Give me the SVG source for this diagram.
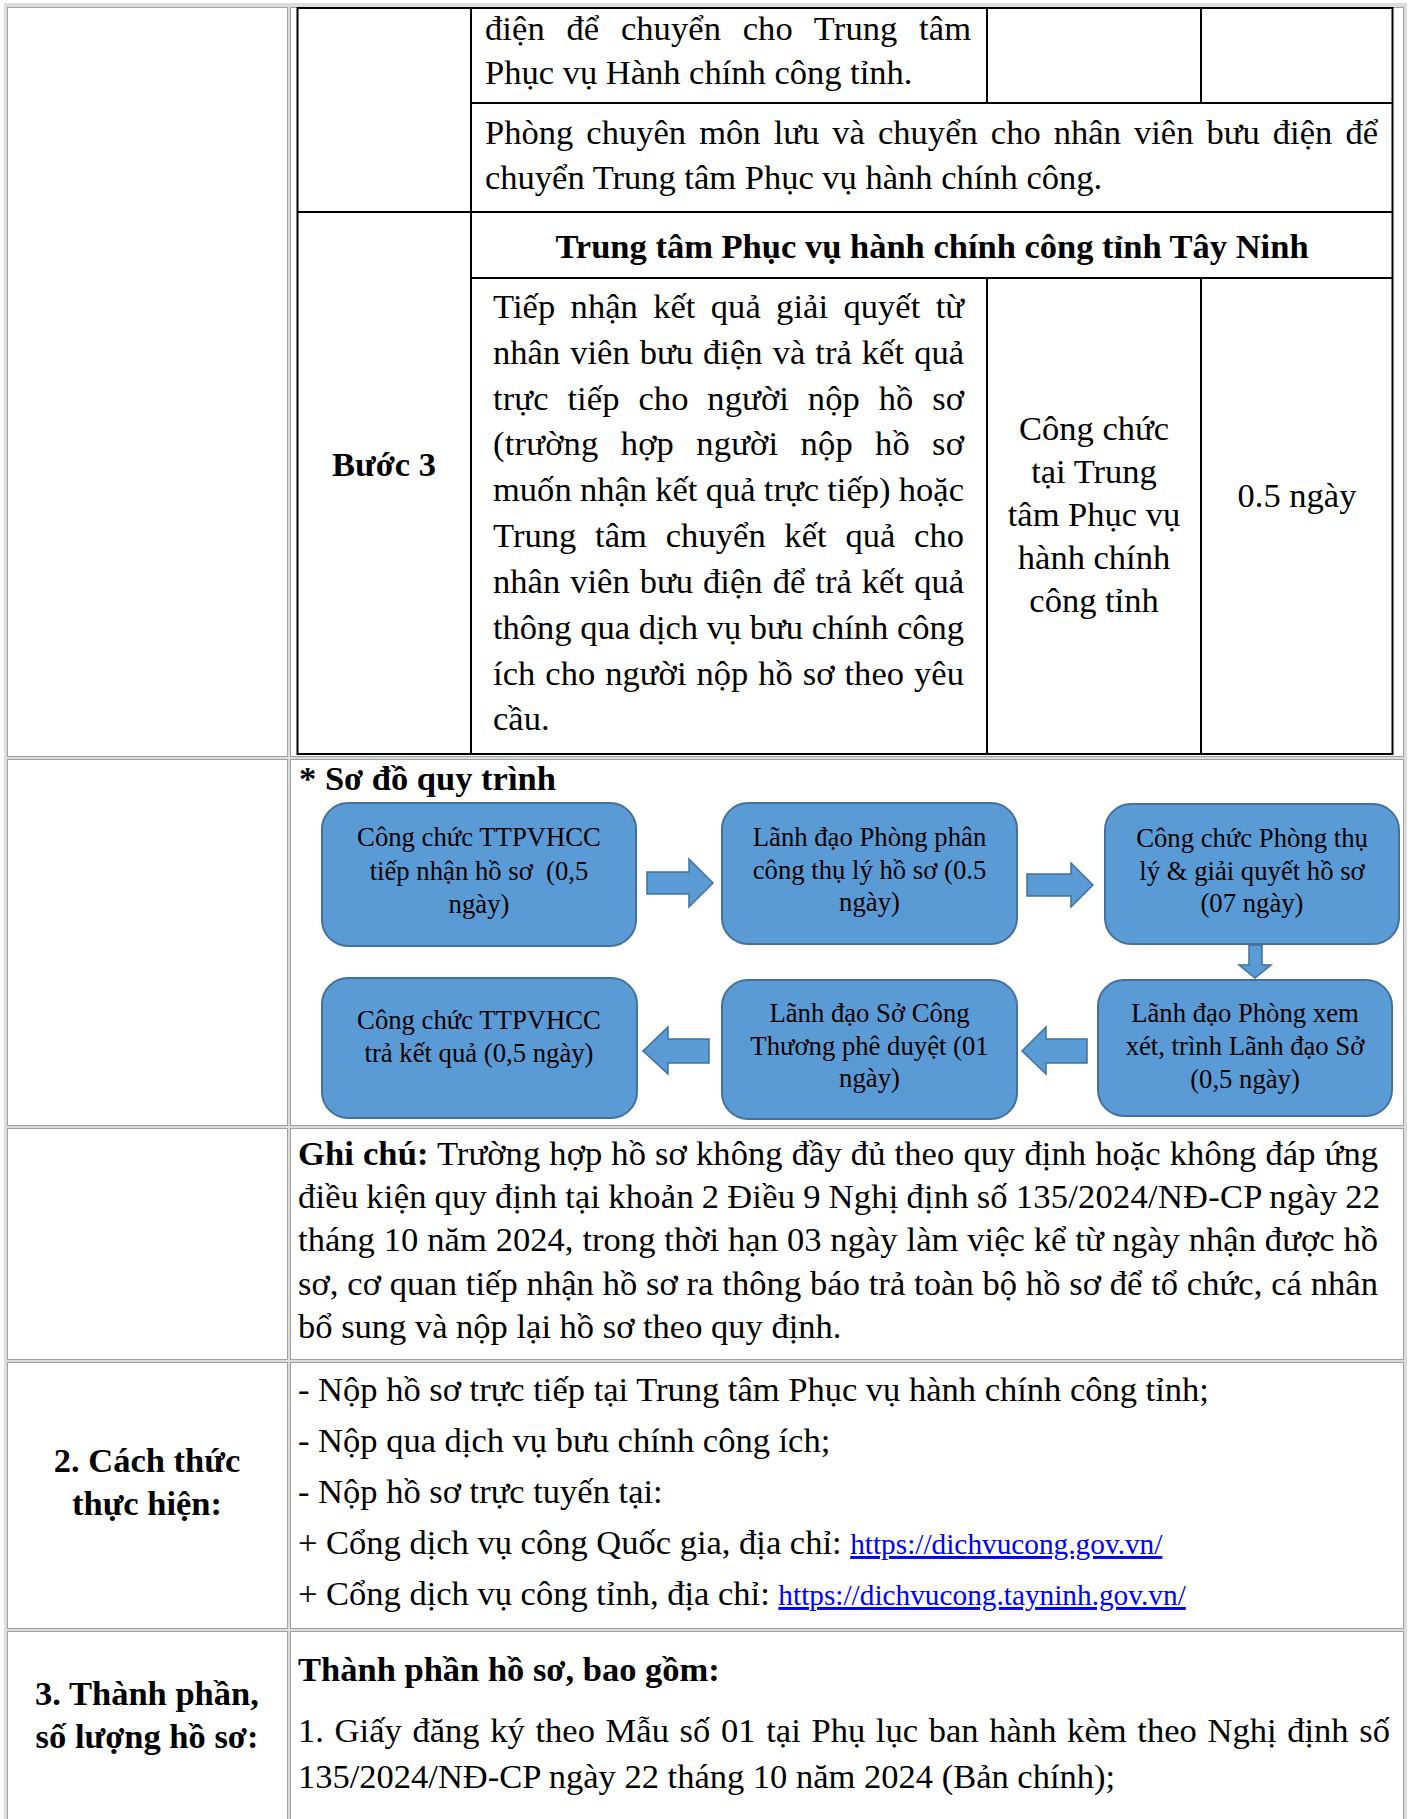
<svg xmlns="http://www.w3.org/2000/svg" width="1411" height="1819" viewBox="0 0 1411 1819">
<style>
.t{font-family:"Liberation Serif","Times New Roman",serif;font-size:34.5px;fill:#000}
.b{font-weight:bold}
.c{text-anchor:middle}
.cell{fill:#fff;stroke:#a0a0a0;stroke-width:1}
.grid line{stroke:#000;stroke-width:2}
.node rect{fill:#5B9BD5;stroke:#41719C;stroke-width:2}
.bt{font-family:"Liberation Serif","Times New Roman",serif;font-size:26.7px;fill:#000;text-anchor:middle}
.arrow{fill:#5B9BD5;stroke:#41719C;stroke-width:1.5}
.link{font-size:29.3px;fill:#0000FF;text-decoration:underline}
</style>
<rect x="0" y="0" width="1411" height="1819" fill="#fff"/>
<!-- outer table -->
<rect x="4" y="3" width="1403" height="1820" fill="#dcdcdc"/>
<g id="outer-cells">
<rect class="cell" x="7.5" y="7.5" width="280" height="749"/>
<rect class="cell" x="290.5" y="7.5" width="1113" height="749"/>
<rect class="cell" x="7.5" y="759.5" width="280" height="366"/>
<rect class="cell" x="290.5" y="759.5" width="1113" height="366"/>
<rect class="cell" x="7.5" y="1128.5" width="280" height="231"/>
<rect class="cell" x="290.5" y="1128.5" width="1113" height="231"/>
<rect class="cell" x="7.5" y="1362.5" width="280" height="266"/>
<rect class="cell" x="290.5" y="1362.5" width="1113" height="266"/>
<rect class="cell" x="7.5" y="1631.5" width="280" height="200"/>
<rect class="cell" x="290.5" y="1631.5" width="1113" height="200"/>
</g>
<!-- inner table grid -->
<g class="grid" id="inner-grid">
<line x1="297" y1="8" x2="1393" y2="8"/>
<line x1="297.5" y1="7" x2="297.5" y2="755"/>
<line x1="471" y1="7" x2="471" y2="755"/>
<line x1="987" y1="7" x2="987" y2="103"/>
<line x1="1201" y1="7" x2="1201" y2="103"/>
<line x1="987" y1="278" x2="987" y2="755"/>
<line x1="1201" y1="278" x2="1201" y2="755"/>
<line x1="1392.5" y1="7" x2="1392.5" y2="755"/>
<line x1="471" y1="103" x2="1393" y2="103"/>
<line x1="297" y1="212" x2="1393" y2="212"/>
<line x1="471" y1="278" x2="1393" y2="278"/>
<line x1="297" y1="754" x2="1393" y2="754"/>
</g>
<!-- inner table text -->
<g id="inner-text">
<text class="t" x="485" y="40" textLength="486" lengthAdjust="spacing" style="word-spacing:13px">điện để chuyển cho Trung tâm</text>
<text class="t" x="485" y="84">Phục vụ Hành chính công tỉnh.</text>
<text class="t" x="485" y="144" textLength="893" lengthAdjust="spacing" style="word-spacing:4.4px">Phòng chuyên môn lưu và chuyển cho nhân viên bưu điện để</text>
<text class="t" x="485" y="189">chuyển Trung tâm Phục vụ hành chính công.</text>
<text class="t b c" x="932" y="258">Trung tâm Phục vụ hành chính công tỉnh Tây Ninh</text>
<text class="t b c" x="384" y="476">Bước 3</text>
<text class="t" x="493" y="318" textLength="471" lengthAdjust="spacing" style="word-spacing:6.6px">Tiếp nhận kết quả giải quyết từ</text>
<text class="t" x="493" y="364" textLength="471" lengthAdjust="spacing" style="word-spacing:1.4px">nhân viên bưu điện và trả kết quả</text>
<text class="t" x="493" y="410" textLength="471" lengthAdjust="spacing" style="word-spacing:10px">trực tiếp cho người nộp hồ sơ</text>
<text class="t" x="493" y="455" textLength="471" lengthAdjust="spacing" style="word-spacing:13.3px">(trường hợp người nộp hồ sơ</text>
<text class="t" x="493" y="501" textLength="471" lengthAdjust="spacing" style="word-spacing:-0.4px">muốn nhận kết quả trực tiếp) hoặc</text>
<text class="t" x="493" y="547" textLength="471" lengthAdjust="spacing" style="word-spacing:10px">Trung tâm chuyển kết quả cho</text>
<text class="t" x="493" y="593" textLength="471" lengthAdjust="spacing" style="word-spacing:1.4px">nhân viên bưu điện để trả kết quả</text>
<text class="t" x="493" y="639" textLength="471" lengthAdjust="spacing">thông qua dịch vụ bưu chính công</text>
<text class="t" x="493" y="685" textLength="471" lengthAdjust="spacing" style="word-spacing:1.1px">ích cho người nộp hồ sơ theo yêu</text>
<text class="t" x="493" y="730">cầu.</text>
<text class="t c" x="1094" y="440">Công chức</text>
<text class="t c" x="1094" y="483">tại Trung</text>
<text class="t c" x="1094" y="526">tâm Phục vụ</text>
<text class="t c" x="1094" y="569">hành chính</text>
<text class="t c" x="1094" y="612">công tỉnh</text>
<text class="t c" x="1297" y="507">0.5 ngày</text>
</g>
<!-- flow chart -->
<text class="t b" x="299" y="790">* Sơ đồ quy trình</text>
<g id="node-1" class="node">
<rect x="322" y="803" width="314" height="143" rx="26"/>
<text class="bt" x="479" y="846">Công chức TTPVHCC</text>
<text class="bt" x="479" y="880" style="white-space:pre">tiếp nhận hồ sơ  (0,5</text>
<text class="bt" x="479" y="913">ngày)</text>
</g>
<g id="node-2" class="node">
<rect x="722" y="803" width="295" height="141" rx="26"/>
<text class="bt" x="869.5" y="846">Lãnh đạo Phòng phân</text>
<text class="bt" x="869.5" y="879">công thụ lý hồ sơ (0.5</text>
<text class="bt" x="869.5" y="911">ngày)</text>
</g>
<g id="node-3" class="node">
<rect x="1105" y="804" width="294" height="140" rx="26"/>
<text class="bt" x="1252" y="847">Công chức Phòng thụ</text>
<text class="bt" x="1252" y="880">lý &amp; giải quyết hồ sơ</text>
<text class="bt" x="1252" y="912">(07 ngày)</text>
</g>
<g id="node-4" class="node">
<rect x="1098" y="980" width="294" height="136" rx="26"/>
<text class="bt" x="1245" y="1022">Lãnh đạo Phòng xem</text>
<text class="bt" x="1245" y="1055">xét, trình Lãnh đạo Sở</text>
<text class="bt" x="1245" y="1088">(0,5 ngày)</text>
</g>
<g id="node-5" class="node">
<rect x="722" y="980" width="295" height="139" rx="26"/>
<text class="bt" x="869.5" y="1022">Lãnh đạo Sở Công</text>
<text class="bt" x="869.5" y="1055">Thương phê duyệt (01</text>
<text class="bt" x="869.5" y="1087">ngày)</text>
</g>
<g id="node-6" class="node">
<rect x="322" y="978" width="315" height="140" rx="26"/>
<text class="bt" x="479" y="1029">Công chức TTPVHCC</text>
<text class="bt" x="479" y="1062">trả kết quả (0,5 ngày)</text>
</g>
<g id="connectors">
<path class="arrow" d="M647,872 H689 V859 L713,883 L689,907 V894 H647 Z"/>
<path class="arrow" d="M1027,874 H1071 V863 L1093,885 L1071,907 V896 H1027 Z"/>
<path class="arrow" d="M1249,945 H1262 V965 H1271 L1255,978 L1239,965 H1249 Z"/>
<path class="arrow" d="M1087,1039 H1046 V1027 L1022,1051 L1046,1074 V1063 H1087 Z"/>
<path class="arrow" d="M709,1039 H668 V1027 L643,1051 L668,1074 V1063 H709 Z"/>
</g>
<!-- Ghi chu -->
<g id="note">
<text class="t" x="298" y="1165" textLength="1080" lengthAdjust="spacing" style="word-spacing:0.3px"><tspan class="b">Ghi chú:</tspan> Trường hợp hồ sơ không đầy đủ theo quy định hoặc không đáp ứng</text>
<text class="t" x="298" y="1208" textLength="1082" lengthAdjust="spacing" style="word-spacing:-1px">điều kiện quy định tại khoản 2 Điều 9 Nghị định số 135/2024/NĐ-CP ngày 22</text>
<text class="t" x="298" y="1251" textLength="1080" lengthAdjust="spacing" style="word-spacing:0.2px">tháng 10 năm 2024, trong thời hạn 03 ngày làm việc kể từ ngày nhận được hồ</text>
<text class="t" x="298" y="1295" textLength="1080" lengthAdjust="spacing">sơ, cơ quan tiếp nhận hồ sơ ra thông báo trả toàn bộ hồ sơ để tổ chức, cá nhân</text>
<text class="t" x="298" y="1338">bổ sung và nộp lại hồ sơ theo quy định.</text>
</g>
<!-- Cach thuc -->
<g id="method">
<text class="t b c" x="147" y="1472">2. Cách thức</text>
<text class="t b c" x="147" y="1515">thực hiện:</text>
<text class="t" x="298" y="1401">- Nộp hồ sơ trực tiếp tại Trung tâm Phục vụ hành chính công tỉnh;</text>
<text class="t" x="298" y="1452">- Nộp qua dịch vụ bưu chính công ích;</text>
<text class="t" x="298" y="1503">- Nộp hồ sơ trực tuyến tại:</text>
<text class="t" x="298" y="1554">+ Cổng dịch vụ công Quốc gia, địa chỉ: <tspan class="link">https://dichvucong.gov.vn/</tspan></text>
<text class="t" x="298" y="1605">+ Cổng dịch vụ công tỉnh, địa chỉ: <tspan class="link">https://dichvucong.tayninh.gov.vn/</tspan></text>
</g>
<!-- Thanh phan -->
<g id="components">
<text class="t b c" x="147" y="1705">3. Thành phần,</text>
<text class="t b c" x="147" y="1748">số lượng hồ sơ:</text>
<text class="t b" x="298" y="1681">Thành phần hồ sơ, bao gồm:</text>
<text class="t" x="298" y="1742" textLength="1092" lengthAdjust="spacing" style="word-spacing:2px">1. Giấy đăng ký theo Mẫu số 01 tại Phụ lục ban hành kèm theo Nghị định số</text>
<text class="t" x="298" y="1788">135/2024/NĐ-CP ngày 22 tháng 10 năm 2024 (Bản chính);</text>
</g>
</svg>
